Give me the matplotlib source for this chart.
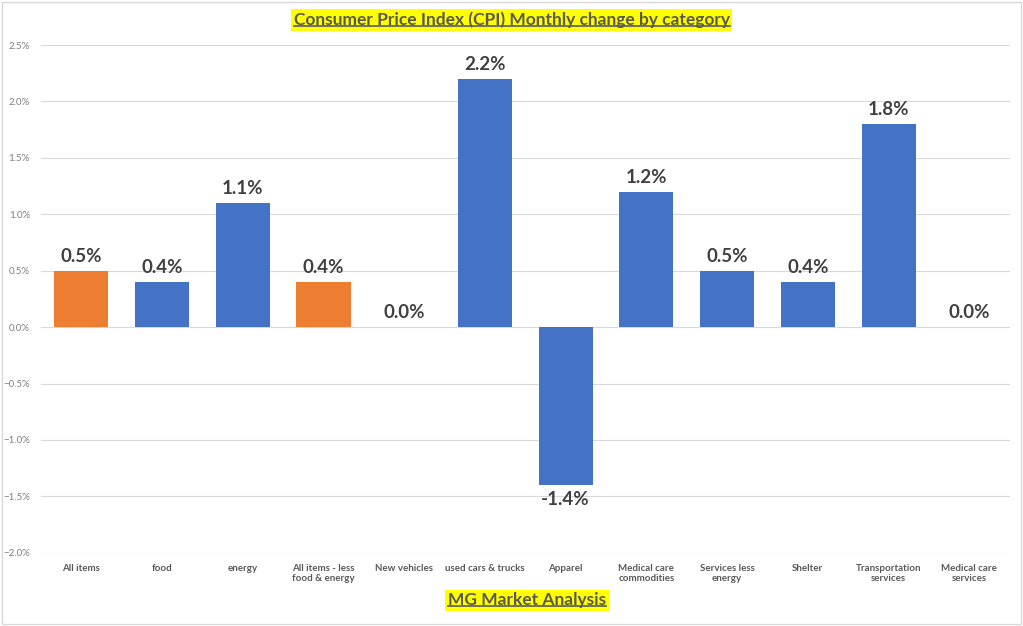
import matplotlib.pyplot as plt
from matplotlib.ticker import PercentFormatter

plt.rcParams['font.family'] = ['Lato', 'DejaVu Sans']

categories = ["All items", "food", "energy", "All items - less\nfood & energy",
              "New vehicles", "used cars & trucks", "Apparel", "Medical care\ncommodities",
              "Services less\nenergy", "Shelter", "Transportation\nservices", "Medical care\nservices"]
changes = [0.5, 0.4, 1.1, 0.4, 0.0, 2.2, -1.4, 1.2, 0.5, 0.4, 1.8, 0.0]
highlight = [True, False, False, True, False, False, False, False, False, False, False, False]

blue = '#4472C4'
orange = '#ED7D31'
grey = '#595959'

fig = plt.figure(figsize=(10.23, 6.26), dpi=100)
ax = fig.add_axes([0.040, 0.117, 0.947, 0.811])

colors = [orange if h else blue for h in highlight]
x = range(len(categories))
bars = ax.bar(x, changes, width=0.67, color=colors, zorder=2)

for xi, v in zip(x, changes):
    if v < 0:
        ax.text(xi, v - 0.05, f"{v:.1f}%", ha='center', va='top',
                fontsize=13.5, fontweight='bold', color='#404040')
    else:
        ax.text(xi, v + 0.05, f"{v:.1f}%", ha='center', va='bottom',
                fontsize=13.5, fontweight='bold', color='#404040')

ax.set_ylim(-2.0, 2.5)
ax.set_xlim(-0.5, len(categories) - 0.5)
ax.set_yticks([-2.0, -1.5, -1.0, -0.5, 0.0, 0.5, 1.0, 1.5, 2.0, 2.5])
ax.yaxis.set_major_formatter(PercentFormatter(decimals=1))
ax.set_xticks(list(x))
ax.set_xticklabels(categories, fontsize=7, color=grey, fontweight='bold', va='top')
ax.tick_params(axis='y', labelsize=7, colors='#7F7F7F', length=0, pad=8)
ax.tick_params(axis='x', length=0, pad=8)
ax.grid(axis='y', color='#D9D9D9', linewidth=0.8, zorder=0)
for s in ax.spines.values():
    s.set_visible(False)

# outer border
fig.patches.append(plt.Rectangle((0.002, 0.003), 0.996, 0.994, transform=fig.transFigure,
                                 fill=False, edgecolor='#D9D9D9', linewidth=1))


def underlined(txt, xpos, ypos, size):
    t = fig.text(xpos, ypos, txt, ha='center', va='center', fontsize=size,
                 fontweight='bold', color=grey, zorder=5,
                 bbox=dict(facecolor='#FFFF00', edgecolor='none', pad=2))
    fig.canvas.draw()
    bb = t.get_window_extent().transformed(fig.transFigure.inverted())
    yl = bb.y0 + 0.003
    fig.add_artist(plt.Line2D([bb.x0, bb.x1], [yl, yl], transform=fig.transFigure,
                              color=grey, linewidth=1.2, zorder=10))


underlined("Consumer Price Index (CPI) Monthly change by category", 0.50, 0.968, 12.5)
underlined("MG Market Analysis", 0.515, 0.041, 12.5)

fig.savefig('out.png', dpi=100)
